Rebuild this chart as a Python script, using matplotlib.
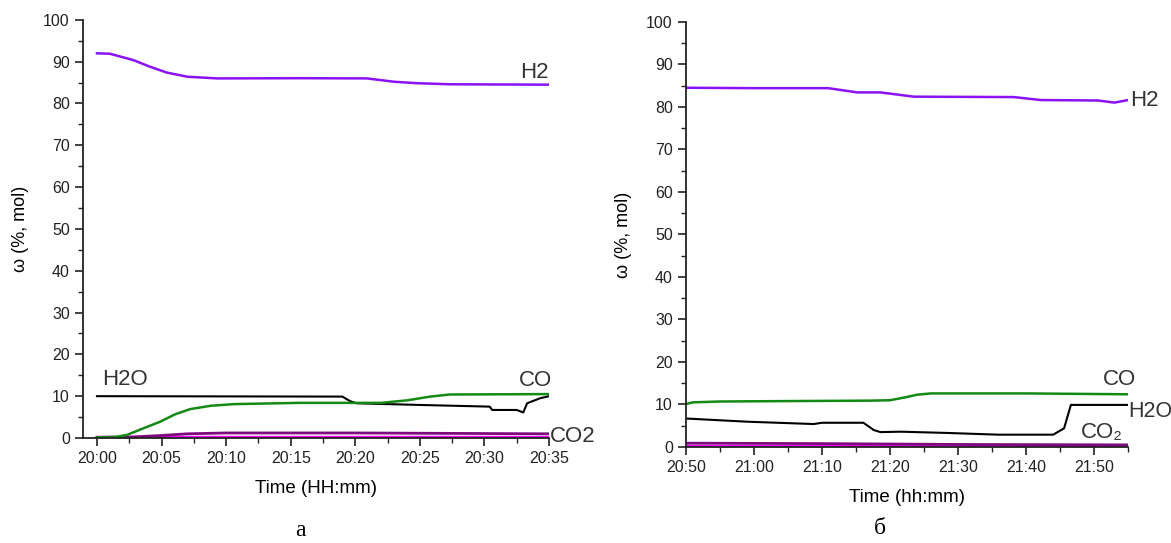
import matplotlib
matplotlib.use("Agg")
import matplotlib.pyplot as plt
from matplotlib.ticker import MultipleLocator, FuncFormatter

plt.rcParams['font.family'] = ['Liberation Sans', 'DejaVu Sans']

# ---- panel a: minutes after 20:00 ----
a_h2_t = [0, 1, 2.8, 4.1, 5.4, 7.0, 9.3, 15.7, 20.9, 23.0, 24.8, 27.3, 35]
a_h2_v = [92.0, 91.9, 90.4, 88.8, 87.4, 86.4, 86.0, 86.05, 86.0, 85.2, 84.85, 84.6, 84.5]

a_co_t = [0, 1.5, 2.3, 3.5, 4.9, 6.0, 7.2, 8.8, 10.6, 15.7, 22.0, 24.0, 25.8, 27.3, 35]
a_co_v = [0.15, 0.3, 0.7, 2.2, 3.9, 5.6, 6.9, 7.7, 8.1, 8.4, 8.4, 9.0, 9.9, 10.4, 10.5]

a_h2o_t = [0, 19.0, 19.6, 20.1, 25.0, 30.4, 30.6, 32.5, 33.0, 33.3, 34.3, 35]
a_h2o_v = [10.0, 9.9, 8.8, 8.3, 7.9, 7.5, 6.7, 6.7, 6.1, 8.3, 9.5, 10.0]

a_co2_t = [0, 2.5, 5.0, 7.0, 10.0, 20.0, 35]
a_co2_v = [0.0, 0.2, 0.6, 1.0, 1.2, 1.2, 1.0]

a_x_t = [0, 35]
a_x_v = [0.2, 0.2]

# ---- panel б: minutes after 20:00 ----
b_h2_t = [50, 60, 70.9, 75.2, 78.6, 83.5, 98.2, 102.2, 110.6, 113.0, 115]
b_h2_v = [84.5, 84.4, 84.4, 83.4, 83.4, 82.4, 82.3, 81.6, 81.5, 81.0, 81.6]

b_co_t = [50, 51, 55, 65, 77.0, 80.0, 82.0, 84.0, 86.0, 100, 115]
b_co_v = [10.1, 10.5, 10.7, 10.8, 10.9, 11.0, 11.6, 12.3, 12.6, 12.6, 12.4]

b_h2o_t = [50, 59.0, 68.8, 70.0, 76.1, 77.6, 78.6, 81.6, 88.5, 95.9, 104.0, 105.6, 106.6, 115]
b_h2o_v = [6.7, 5.95, 5.4, 5.7, 5.7, 4.0, 3.5, 3.6, 3.3, 2.9, 2.9, 4.4, 9.9, 9.9]

b_co2_t = [50, 70, 90, 115]
b_co2_v = [0.9, 0.8, 0.6, 0.5]

b_x_t = [50, 115]
b_x_v = [0.2, 0.2]

C_H2 = '#8a12f5'
C_CO = '#138a13'
C_H2O = '#000000'
C_CO2 = '#7d0a7d'
C_X = '#ff00ff'
TXT = '#333333'


def hhmm(x, pos):
    m = int(round(x))
    return f"{20 + m // 60}:{m % 60:02d}"


def style_axes(ax, xmin, xmax, major, minor, xlabel):
    ax.set_xlim(xmin, xmax)
    ax.set_ylim(0, 100)
    ax.spines['top'].set_visible(False)
    ax.spines['right'].set_visible(False)
    for s in ('left', 'bottom'):
        ax.spines[s].set_linewidth(1.3)
        ax.spines[s].set_color('#222222')
    ax.yaxis.set_major_locator(MultipleLocator(10))
    ax.yaxis.set_minor_locator(MultipleLocator(5))
    ax.xaxis.set_major_locator(MultipleLocator(major))
    ax.xaxis.set_minor_locator(MultipleLocator(minor))
    ax.xaxis.set_major_formatter(FuncFormatter(hhmm))
    ax.tick_params(which='major', direction='out', length=6, width=1.2,
                   labelsize=11.5, colors='#222222')
    ax.tick_params(which='minor', direction='out', length=3.5, width=1.0,
                   colors='#222222')
    ax.set_ylabel('ω (%, mol)', fontsize=13, labelpad=10)
    ax.set_xlabel(xlabel, fontsize=13.5, labelpad=10)


fig = plt.figure(figsize=(11.71, 5.43), dpi=100)

ax1 = fig.add_axes([0.0709, 0.1934, 0.398, 0.770])
ax1.plot(a_x_t, a_x_v, color=C_X, lw=2.5)
ax1.plot(a_co2_t, a_co2_v, color=C_CO2, lw=2.0)
ax1.plot(a_h2o_t, a_h2o_v, color=C_H2O, lw=1.5)
ax1.plot(a_co_t, a_co_v, color=C_CO, lw=1.8)
ax1.plot(a_h2_t, a_h2_v, color=C_H2, lw=1.8)
style_axes(ax1, -1.08, 35, 5, 2.5, 'Time (HH:mm)')
ax1.text(35.0, 87.3, 'H2', fontsize=16, color=TXT, ha='right', va='center')
ax1.text(0.4, 11.5, 'H2O', fontsize=16, color=TXT, ha='left', va='bottom')
ax1.text(35.2, 11.2, 'CO', fontsize=16, color=TXT, ha='right', va='bottom', clip_on=False)
ax1.text(35.1, 0.4, 'CO2', fontsize=16, color=TXT, ha='left', va='center', clip_on=False)

ax2 = fig.add_axes([0.5858, 0.1768, 0.3775, 0.783])
ax2.plot(b_x_t, b_x_v, color=C_X, lw=2.5)
ax2.plot(b_co2_t, b_co2_v, color=C_CO2, lw=2.0)
ax2.plot(b_h2o_t, b_h2o_v, color=C_H2O, lw=1.5)
ax2.plot(b_co_t, b_co_v, color=C_CO, lw=1.8)
ax2.plot(b_h2_t, b_h2_v, color=C_H2, lw=1.8)
style_axes(ax2, 50, 115, 10, 5, 'Time (hh:mm)')
ax2.text(115.3, 81.6, 'H2', fontsize=16, color=TXT, ha='left', va='center', clip_on=False)
ax2.text(116.2, 13.4, 'CO', fontsize=16, color=TXT, ha='right', va='bottom', clip_on=False)
ax2.text(115.05, 8.3, 'H2O', fontsize=15.5, color=TXT, ha='left', va='center', clip_on=False)
ax2.text(114.2, 1.0, 'CO₂', fontsize=16, color=TXT, ha='right', va='bottom')

fig.text(300 / 1171, 1 - 530 / 543, 'а', fontsize=17, family='Liberation Serif',
         ha='center', va='center')
fig.text(880 / 1171, 1 - 528 / 543, 'б', fontsize=17, family='Liberation Serif',
         ha='center', va='center')

fig.savefig('out.png', dpi=100, facecolor='white')
